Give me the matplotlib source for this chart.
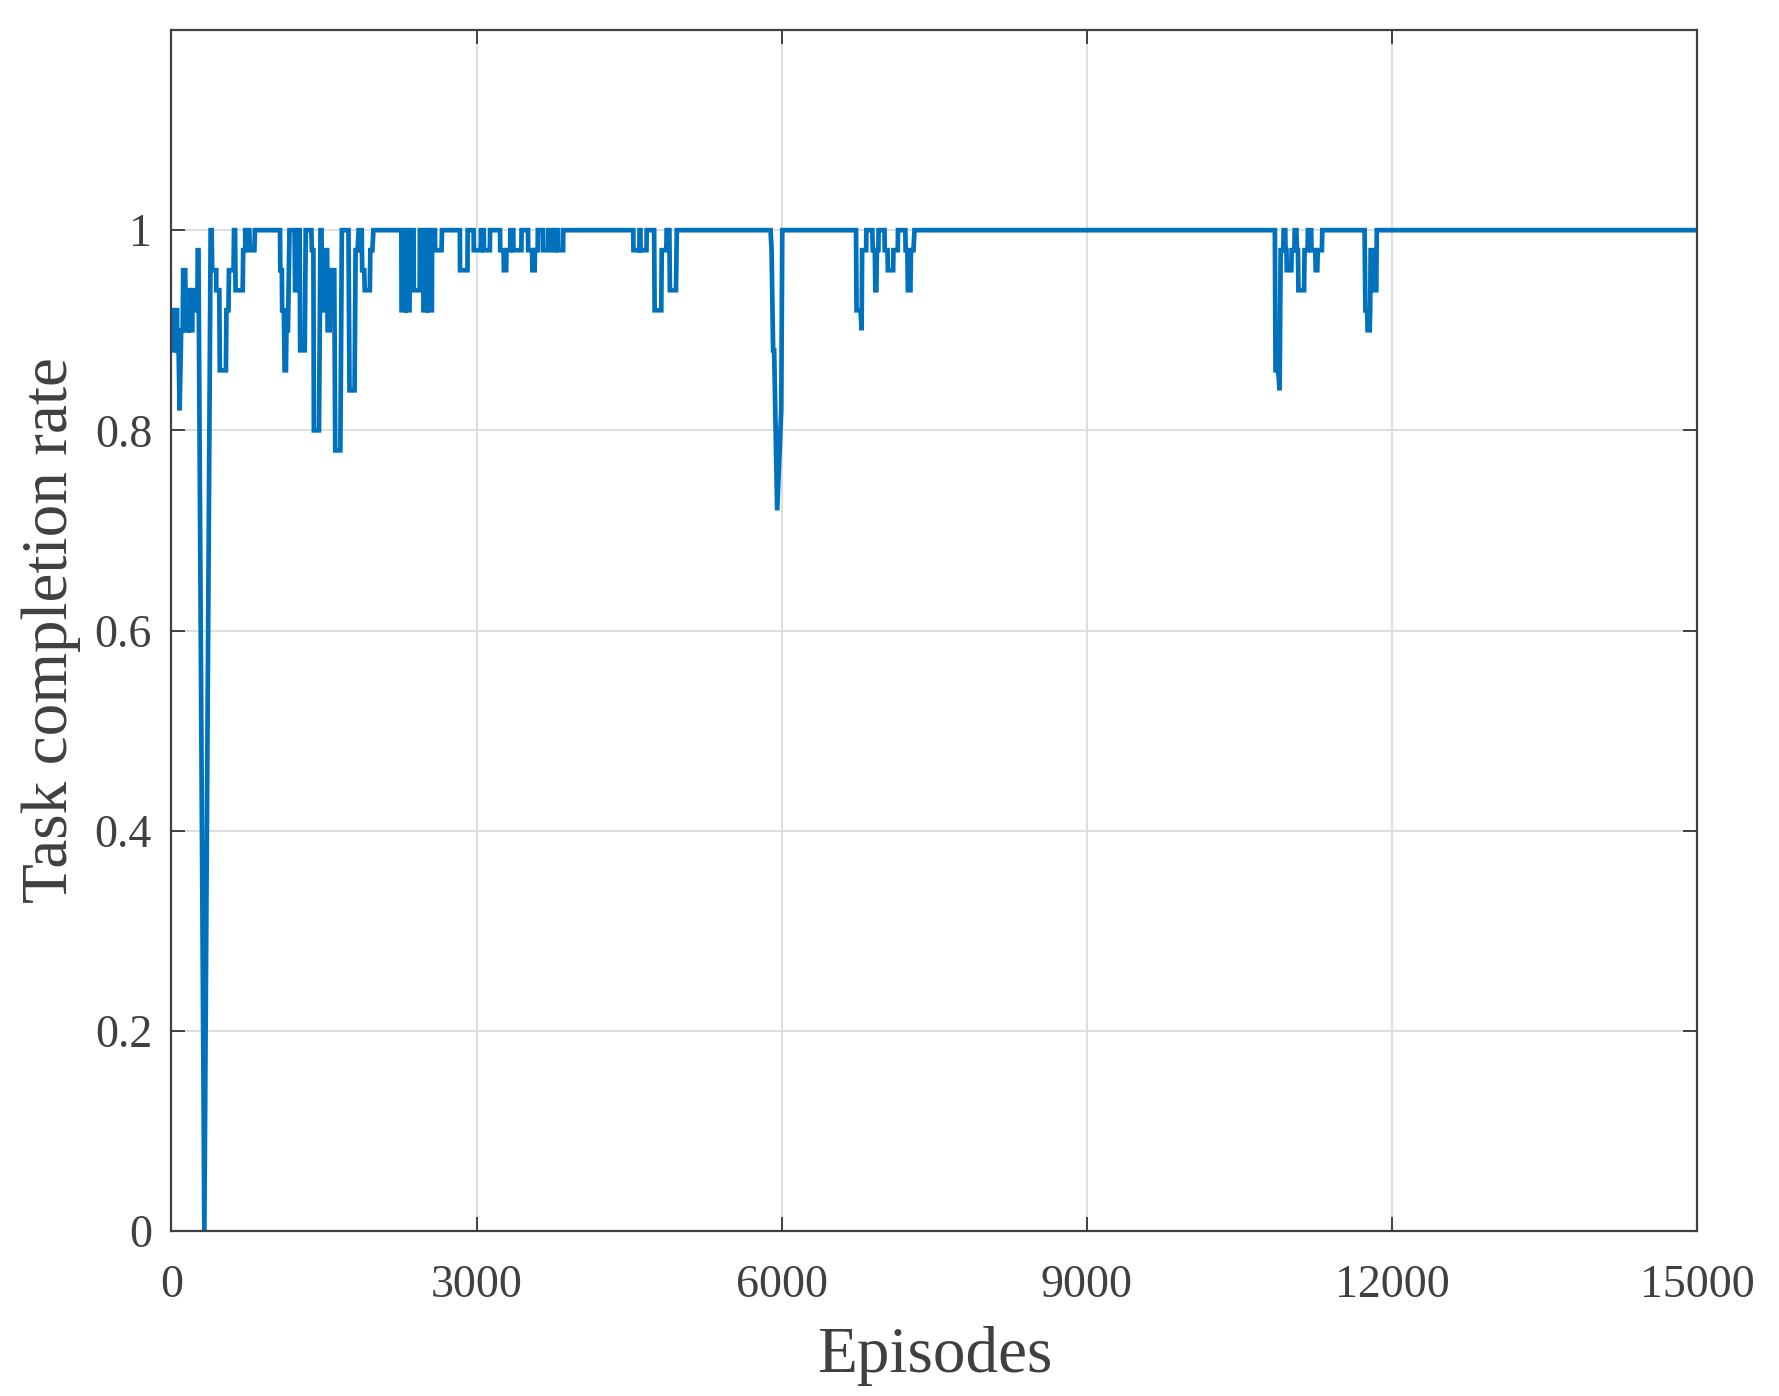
import matplotlib
matplotlib.use("Agg")
import matplotlib.pyplot as plt

# ---- data: vertices of the task-completion-rate curve (episode, rate) ----
seg_a_ep = [0, 20, 20, 40, 40, 55, 55, 70, 80, 95, 110, 115, 135, 140, 165, 165, 175, 175, 205, 205,
            230, 230, 255, 258, 265, 323, 385, 395, 400, 440, 440, 470, 475, 535, 540, 560, 565, 610,
            615, 625, 630, 700, 705, 725, 725, 765, 770, 815, 820, 1067]
seg_a_rate = [0.92, 0.92, 0.88, 0.88, 0.92, 0.92, 0.88, 0.88, 0.82, 0.90, 0.90, 0.96, 0.96, 0.90, 0.90, 0.94,
              0.94, 0.90, 0.90, 0.94, 0.94, 0.92, 0.92, 0.98, 0.98, 0.00, 1.00, 1.00, 0.96, 0.96, 0.94,
              0.94, 0.86, 0.86, 0.92, 0.92, 0.96, 0.96, 1.00, 1.00, 0.94, 0.94, 0.98, 0.98, 1.00, 1.00,
              0.98, 0.98, 1.00, 1.00]

seg_b_ep = [1070, 1085, 1088, 1105, 1112, 1125, 1130, 1145, 1160, 1210, 1215, 1235, 1240, 1260, 1265,
            1310, 1320, 1375, 1380, 1395, 1400, 1450, 1465, 1475, 1480, 1500, 1505, 1530, 1535, 1555,
            1560, 1600, 1610, 1660, 1675, 1740, 1750, 1800, 1810, 1830, 1840, 1870, 1875, 1895, 1900,
            1950, 1955, 1975, 1985]
seg_b_rate = [0.96, 0.96, 0.92, 0.92, 0.86, 0.86, 0.90, 0.90, 1.00, 1.00, 0.94, 0.94, 1.00, 1.00, 0.88,
              0.88, 1.00, 1.00, 0.98, 0.98, 0.80, 0.80, 1.00, 1.00, 0.92, 0.92, 0.98, 0.98, 0.90, 0.90,
              0.96, 0.96, 0.78, 0.78, 1.00, 1.00, 0.84, 0.84, 0.98, 0.98, 1.00, 1.00, 0.96, 0.96, 0.94,
              0.94, 0.98, 0.98, 1.00]

seg_c_ep = [2260, 2262, 2300, 2302, 2308, 2310, 2340, 2345, 2380, 2382, 2440, 2442, 2475, 2477, 2510,
            2512, 2520, 2522, 2560, 2562, 2590, 2592, 2655, 2660, 2835, 2837, 2910, 2912, 2970, 2972,
            3040, 3042, 3070, 3072, 3130, 3132, 3230, 3232, 3265, 3268, 3290, 3293, 3330, 3332, 3360,
            3362, 3440, 3442, 3505, 3507, 3545, 3548, 3570, 3573, 3600, 3602, 3650, 3652, 3700, 3702,
            3740, 3742, 3770, 3772, 3800, 3802, 3850, 3852]
seg_c_rate = [1.00, 0.92, 0.92, 1.00, 1.00, 0.92, 0.92, 1.00, 1.00, 0.94, 0.94, 1.00, 1.00, 0.92, 0.92,
              1.00, 1.00, 0.92, 0.92, 1.00, 1.00, 0.98, 0.98, 1.00, 1.00, 0.96, 0.96, 1.00, 1.00, 0.98,
              0.98, 1.00, 1.00, 0.98, 0.98, 1.00, 1.00, 0.98, 0.98, 0.96, 0.96, 0.98, 0.98, 1.00, 1.00,
              0.98, 0.98, 1.00, 1.00, 0.98, 0.98, 0.96, 0.96, 0.98, 0.98, 1.00, 1.00, 0.98, 0.98, 1.00,
              1.00, 0.98, 0.98, 1.00, 1.00, 0.98, 0.98, 1.00]

seg_d_ep = [4540, 4542, 4600, 4602, 4610, 4612, 4670, 4672, 4745, 4750, 4815, 4820, 4865, 4868, 4895,
            4900, 4960, 4968]
seg_d_rate = [1.00, 0.98, 0.98, 1.00, 1.00, 0.98, 0.98, 1.00, 1.00, 0.92, 0.92, 0.98, 0.98, 1.00, 1.00,
              0.94, 0.94, 1.00]

seg_e_ep = [5890, 5900, 5915, 5925, 5955, 5995, 6005]
seg_e_rate = [1.00, 0.98, 0.88, 0.88, 0.72, 0.82, 1.00]

seg_f_ep = [6730, 6735, 6775, 6785, 6790, 6830, 6832, 6890, 6895, 6915, 6920, 6930, 6935, 6950, 6952,
            7010, 7012, 7040, 7043, 7095, 7098, 7140, 7143, 7215, 7218, 7235, 7240, 7265, 7270, 7295,
            7305]
seg_f_rate = [1.00, 0.92, 0.92, 0.90, 0.98, 0.98, 1.00, 1.00, 0.98, 0.98, 0.94, 0.94, 0.98, 0.98, 1.00,
              1.00, 0.98, 0.98, 0.96, 0.96, 0.98, 0.98, 1.00, 1.00, 0.98, 0.98, 0.94, 0.94, 0.98, 0.98,
              1.00]

seg_g_ep = [10848, 10855, 10880, 10895, 10905, 10930, 10935, 10950, 10953, 10962, 10965, 11010, 11013,
            11040, 11043, 11060, 11065, 11075, 11080, 11135, 11140, 11170, 11173, 11205, 11208, 11245,
            11250, 11265, 11270, 11310, 11315]
seg_g_rate = [1.00, 0.86, 0.86, 0.84, 0.98, 0.98, 1.00, 1.00, 0.98, 0.98, 0.96, 0.96, 0.98, 0.98, 1.00,
              1.00, 0.98, 0.98, 0.94, 0.94, 0.98, 0.98, 1.00, 1.00, 0.98, 0.98, 0.96, 0.96, 0.98, 0.98,
              1.00]

seg_h_ep = [11730, 11738, 11755, 11760, 11780, 11785, 11790, 11822, 11826, 11845, 11850, 15000]
seg_h_rate = [1.00, 0.92, 0.92, 0.90, 0.90, 0.92, 0.98, 0.98, 0.94, 0.94, 1.00, 1.00]

episodes = (seg_a_ep + seg_b_ep + seg_c_ep + seg_d_ep + seg_e_ep + seg_f_ep + seg_g_ep + seg_h_ep)
rate = (seg_a_rate + seg_b_rate + seg_c_rate + seg_d_rate + seg_e_rate + seg_f_rate + seg_g_rate
        + seg_h_rate)

x_ticks = [0, 3000, 6000, 9000, 12000, 15000]
y_ticks = [0, 0.2, 0.4, 0.6, 0.8, 1.0]
y_tick_labels = ["0", "0.2", "0.4", "0.6", "0.8", "1"]

# ---- figure ----
plt.rcParams['font.family'] = ['Liberation Serif', 'DejaVu Serif']
text_color = '#404040'
fig = plt.figure(figsize=(17.79, 13.96), dpi=100)
ax = fig.add_axes([0.0964, 0.1182, 0.954 - 0.0964, 0.9785 - 0.1182])

ax.plot(episodes, rate, color='#0072BD', linewidth=3.4, solid_joinstyle='miter')

ax.set_xlim(0, 15000)
ax.set_ylim(0, 1.2)
ax.set_xticks(x_ticks)
ax.set_xticklabels([str(t) for t in x_ticks])
ax.set_yticks(y_ticks)
ax.set_yticklabels(y_tick_labels)

ax.grid(True, color='#dedede', linewidth=1.4)
ax.set_axisbelow(True)
for s in ax.spines.values():
    s.set_color('#404040')
    s.set_linewidth(1.6)
ax.tick_params(direction='in', length=10, width=1.4, colors='#404040',
               top=True, right=True, labelsize=33, labelcolor=text_color)
ax.tick_params(axis='x', pad=24)
ax.tick_params(axis='y', pad=14)

ax.set_xlabel('Episodes', fontsize=47, color=text_color, labelpad=14)
ax.set_ylabel('Task completion rate', fontsize=47, color=text_color, labelpad=10)

fig.savefig('out.png', dpi=100)
